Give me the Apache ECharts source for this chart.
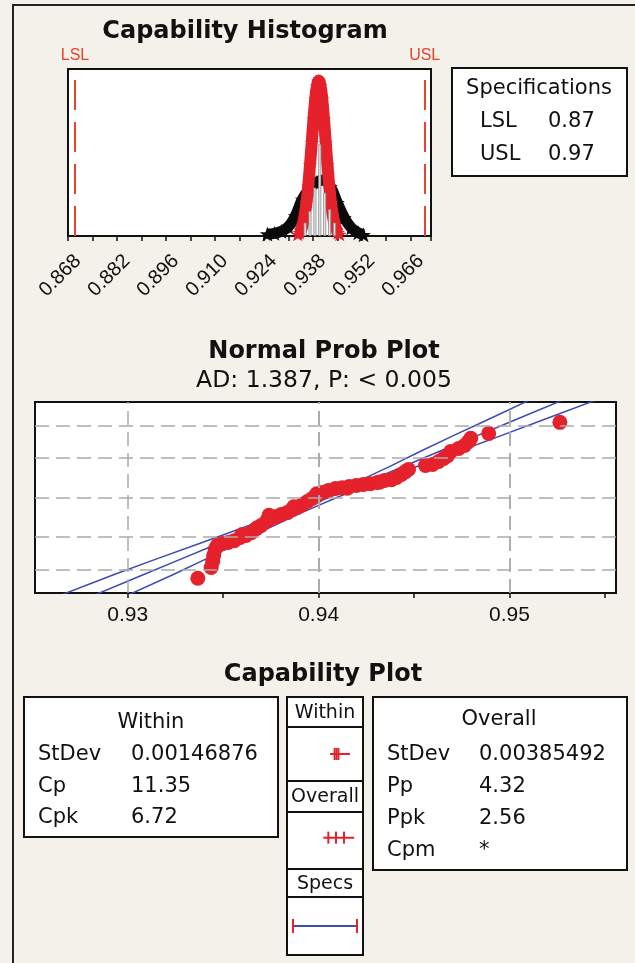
<!DOCTYPE html>
<html><head><meta charset="utf-8">
<script src="https://cdn.jsdelivr.net/npm/echarts@6/dist/echarts.min.js"></script>
<style>html,body{margin:0;padding:0;background:#f3f1ea}#c{width:635px;height:963px}</style>
</head><body><div id="c"></div>
<script>
// ---------- Capability histogram ----------
const histTickLabels = [0.868, 0.882, 0.896, 0.910, 0.924, 0.938, 0.952, 0.966];
const specNames = ['LSL', 'USL'];
const specValues = [0.87, 0.97];
const histBinCenters = [0.9358, 0.9372, 0.9386, 0.9400, 0.9414, 0.9428, 0.9442];
const histBinCounts = [8, 15, 29, 55, 26, 16, 8];
const withinCurveX = [0.9337, 0.9342, 0.9347, 0.9352, 0.9357, 0.9362, 0.9367, 0.9372, 0.9377, 0.9382, 0.9387, 0.9392, 0.9397, 0.9402, 0.9407, 0.9412, 0.9417, 0.9422, 0.9427, 0.9432, 0.9437, 0.9442, 0.9447, 0.9452, 0.9457];
const withinCurveY = [1, 2.1, 4.1, 7.4, 12.6, 20, 30, 42.6, 56, 70, 82, 90, 93, 90, 82, 70, 56, 42.6, 30, 20, 12.6, 7.4, 4.1, 2.1, 1];
const overallCurveX = [0.925, 0.927, 0.929, 0.931, 0.933, 0.935, 0.937, 0.939, 0.941, 0.943, 0.945, 0.947, 0.949, 0.951, 0.9525];
const overallCurveY = [1.2, 1.6, 2.8, 5.5, 12, 22, 28, 32, 33.5, 29.5, 20, 11, 5, 2, 0.8];
const specTableRows = [['LSL', '0.87'], ['USL', '0.97']];

// ---------- Normal probability plot ----------
const probPointsX = [0.93367, 0.93437, 0.93445, 0.93450, 0.93458, 0.93469, 0.93495, 0.93526, 0.93558, 0.93589, 0.93620, 0.93647, 0.93673, 0.93699, 0.93726, 0.93752, 0.93778, 0.93804, 0.93836, 0.93862, 0.93888, 0.93915, 0.93941, 0.93967, 0.93993, 0.94019, 0.94051, 0.94088, 0.94124, 0.94161, 0.94198, 0.94234, 0.94271, 0.94308, 0.94345, 0.94382, 0.94408, 0.94434, 0.94455, 0.94471, 0.94560, 0.94597, 0.94629, 0.94655, 0.94676, 0.94692, 0.94734, 0.94765, 0.94786, 0.94797, 0.94891, 0.95264, 0.93740, 0.93870, 0.93990, 0.94150, 0.94320, 0.93600, 0.93680];
const probPointsZ = [-2.62, -2.27, -2.08, -1.88, -1.69, -1.56, -1.49, -1.46, -1.40, -1.30, -1.23, -1.14, -1.01, -0.91, -0.78, -0.68, -0.62, -0.55, -0.49, -0.39, -0.32, -0.23, -0.13, -0.03, 0.06, 0.16, 0.23, 0.29, 0.32, 0.36, 0.39, 0.42, 0.45, 0.49, 0.55, 0.58, 0.65, 0.75, 0.84, 0.91, 1.04, 1.07, 1.17, 1.27, 1.36, 1.49, 1.59, 1.69, 1.82, 1.92, 2.08, 2.44, -0.58, -0.30, 0.12, 0.30, 0.50, -1.20, -0.98];
const bandZ = [-3.3, -2.5, -2, -1.5, -1, -0.5, 0, 0.5, 1, 1.5, 2, 2.5, 3.3];
const fitLineX = [0.92774, 0.93084, 0.93278, 0.93472, 0.93666, 0.93859, 0.94053, 0.94247, 0.94441, 0.94634, 0.94828, 0.95022, 0.95332];
const upperBandX = [0.92594, 0.92929, 0.93148, 0.93372, 0.93596, 0.93809, 0.94011, 0.94197, 0.94371, 0.94534, 0.94703, 0.94877, 0.95152];
const lowerBandX = [0.92954, 0.93239, 0.93408, 0.93572, 0.93736, 0.93909, 0.94095, 0.94297, 0.94511, 0.94734, 0.94953, 0.95167, 0.95512];
const probTickX = [0.93, 0.935, 0.94, 0.945, 0.95, 0.955];
const probLabelX = [0.93, 0.94, 0.95];
const probGridZ = [-2.326, -1.2816, 0, 1.2816, 2.326];

// ---------- Capability plot ----------
const withinStats = [['StDev', '0.00146876'], ['Cp', '11.35'], ['Cpk', '6.72']];
const overallStats = [['StDev', '0.00385492'], ['Pp', '4.32'], ['Ppk', '2.56'], ['Cpm', '*']];
const withinMarkX = [0.9280, 0.9350, 0.9380, 0.9410, 0.9590];
const overallMarkX = [0.9174, 0.9252, 0.9372, 0.9497, 0.9656];
const legendHeaders = ['Within', 'Overall', 'Specs'];

// ---------- styles ----------
const RED = '#e5212b', BLUE = '#3b4cb4', INK = '#111';
const BOX_FONT = '21px "DejaVu Sans"';
const TITLE_FONT = 'bold 24px "DejaVu Sans"';
const STAR = 'path://M12,0 L15,9 L24,9 L17,14 L20,23 L12,18 L4,23 L7,14 L0,9 L9,9 Z';

function txt(text, x, y, font, align, color) {
  return { type: 'text', x: x, y: y, silent: true,
    style: { text: text, font: font, fill: color || INK, align: align || 'left', verticalAlign: 'middle',
      textAlign: align || 'left', textVerticalAlign: 'middle' } };
}
function box(x, y, w, h) {
  return { type: 'rect', shape: { x: x, y: y, width: w, height: h },
    style: { fill: '#fff', stroke: INK, lineWidth: 2 }, silent: true };
}

const graphics = [];
graphics.push({ type: 'rect', shape: { x: 13, y: 5, width: 700, height: 1000 }, style: { fill: 'none', stroke: '#222', lineWidth: 2 }, silent: true });
graphics.push(txt('Capability Histogram', 245, 32, TITLE_FONT, 'center'));
graphics.push(box(452, 68, 175, 108));
graphics.push(txt('Specifications', 539, 89, BOX_FONT, 'center'));
specTableRows.forEach((r, i) => {
  graphics.push(txt(r[0], 480, 122 + i * 33, BOX_FONT));
  graphics.push(txt(r[1], 548, 122 + i * 33, BOX_FONT));
});
graphics.push(txt('Normal Prob Plot', 324, 352, TITLE_FONT, 'center'));
graphics.push(txt('AD: 1.387, P: < 0.005', 324, 381, '23.5px "DejaVu Sans"', 'center'));
graphics.push(txt('Capability Plot', 323, 675, TITLE_FONT, 'center'));
graphics.push(box(24, 697, 254, 140));
graphics.push(txt('Within', 151, 723, BOX_FONT, 'center'));
withinStats.forEach((r, i) => {
  graphics.push(txt(r[0], 38, 755 + i * 31.5, BOX_FONT));
  graphics.push(txt(r[1], 131, 755 + i * 31.5, BOX_FONT));
});
graphics.push(box(373, 697, 254, 173));
graphics.push(txt('Overall', 499, 720, BOX_FONT, 'center'));
overallStats.forEach((r, i) => {
  graphics.push(txt(r[0], 387, 755 + i * 32, BOX_FONT));
  graphics.push(txt(r[1], 479, 755 + i * 32, BOX_FONT));
});
const colRows = [[697, 30], [727, 54], [781, 31], [812, 57], [869, 28], [897, 58]];
colRows.forEach(r => graphics.push(box(287, r[0], 76, r[1])));
legendHeaders.forEach((h, i) => graphics.push(txt(h, 325, colRows[i * 2][0] + colRows[i * 2][1] / 2 + 1, '19px "DejaVu Sans"', 'center')));

const near = (v, arr) => arr.some(t => Math.abs(t - v) < 1e-6);

const option = {
  animation: false,
  backgroundColor: '#f3f1ea',
  graphic: { elements: graphics },
  grid: [
    { left: 68, top: 69, width: 363, height: 167, show: true, borderColor: INK, borderWidth: 2, backgroundColor: '#fff' },
    { left: 35, top: 402, width: 581, height: 191, show: true, borderColor: INK, borderWidth: 2, backgroundColor: '#fff' },
    { left: 293, top: 727, width: 64, height: 54 },
    { left: 293, top: 812, width: 64, height: 57 },
    { left: 293, top: 897, width: 64, height: 58 }
  ],
  xAxis: [
    { gridIndex: 0, type: 'value', min: 0.868, max: 0.9718, interval: 0.007,
      axisLine: { onZero: false, lineStyle: { color: INK, width: 2 } },
      axisTick: { show: true, length: 5, lineStyle: { color: INK, width: 1.5 } },
      splitLine: { show: false },
      axisLabel: { rotate: 45, margin: 12, align: 'right', verticalAlign: 'top', lineHeight: 28,
        fontSize: 20, fontFamily: 'Liberation Sans', color: INK,
        formatter: v => near(v, histTickLabels) ? v.toFixed(3) : '' } },
    { gridIndex: 1, type: 'value', min: 0.92514, max: 0.95558,
      axisLine: { onZero: false, lineStyle: { color: INK, width: 2 } },
      axisTick: { show: true, length: 5, customValues: probTickX, lineStyle: { color: INK, width: 1.5 } },
      splitLine: { show: false },
      axisLabel: { customValues: probLabelX, margin: 12, fontSize: 21, fontFamily: 'Liberation Sans', color: INK,
        formatter: v => v.toFixed(2) } },
    { gridIndex: 2, type: 'value', min: 0.87, max: 0.97, show: false },
    { gridIndex: 3, type: 'value', min: 0.87, max: 0.97, show: false },
    { gridIndex: 4, type: 'value', min: 0.87, max: 0.97, show: false }
  ],
  yAxis: [
    { gridIndex: 0, type: 'value', min: 0, max: 100, show: false },
    { gridIndex: 1, type: 'value', min: -3.1, max: 3.1, show: false },
    { gridIndex: 2, type: 'value', min: -1, max: 1, show: false },
    { gridIndex: 3, type: 'value', min: -1, max: 1, show: false },
    { gridIndex: 4, type: 'value', min: -1, max: 1, show: false }
  ],
  series: [
    { type: 'line', xAxisIndex: 0, yAxisIndex: 0, z: 2, clip: false, smooth: true,
      data: overallCurveX.map((x, i) => [x, overallCurveY[i]]),
      lineStyle: { color: '#0a0a0a', width: 11 }, symbol: STAR, symbolSize: 15,
      itemStyle: { color: '#0a0a0a' } },
    { type: 'line', xAxisIndex: 0, yAxisIndex: 0, z: 3, clip: false, smooth: true,
      data: withinCurveX.map((x, i) => [x, withinCurveY[i]]),
      lineStyle: { color: RED, width: 12 }, symbol: STAR, symbolSize: 14,
      itemStyle: { color: RED } },
    { type: 'bar', xAxisIndex: 0, yAxisIndex: 0, z: 4, barWidth: 3,
      data: histBinCenters.map((x, i) => [x, histBinCounts[i]]),
      itemStyle: { color: '#e4e4e4', borderColor: '#8a8a8a', borderWidth: 0.8 },
      markLine: { silent: true, symbol: ['none', 'none'],
        lineStyle: { color: '#e8432f', width: 2, type: [30, 12] },
        label: { show: true, position: 'end', distance: 5, formatter: '{b}', color: '#e8432f', fontSize: 16, fontFamily: 'Liberation Sans' },
        data: specValues.map((v, i) => ({ xAxis: v, name: specNames[i] })) } },
    { type: 'line', xAxisIndex: 1, yAxisIndex: 1, z: 1, data: [], symbol: 'none',
      markLine: { silent: true, symbol: ['none', 'none'], label: { show: false },
        lineStyle: { color: '#ababab', width: 1.5, type: [14, 7] },
        data: probTickX.map(v => ({ xAxis: v })).concat(probGridZ.map(v => ({ yAxis: v }))) } },
    { type: 'line', xAxisIndex: 1, yAxisIndex: 1, z: 2, symbol: 'none',
      data: bandZ.map((z, i) => [upperBandX[i], z]), lineStyle: { color: BLUE, width: 1.5 } },
    { type: 'line', xAxisIndex: 1, yAxisIndex: 1, z: 2, symbol: 'none',
      data: bandZ.map((z, i) => [fitLineX[i], z]), lineStyle: { color: BLUE, width: 1.5 } },
    { type: 'line', xAxisIndex: 1, yAxisIndex: 1, z: 2, symbol: 'none',
      data: bandZ.map((z, i) => [lowerBandX[i], z]), lineStyle: { color: BLUE, width: 1.5 } },
    { type: 'scatter', xAxisIndex: 1, yAxisIndex: 1, z: 3, symbolSize: 15,
      data: probPointsX.map((x, i) => [x, probPointsZ[i]]), itemStyle: { color: RED, opacity: 1 } },
    { type: 'line', xAxisIndex: 2, yAxisIndex: 2, z: 3,
      data: withinMarkX.map((x, i) => ({ value: [x, 0], symbol: (i === 0 || i === withinMarkX.length - 1) ? 'none' : 'rect' })),
      symbolSize: [2, 12], lineStyle: { color: RED, width: 2 }, itemStyle: { color: RED } },
    { type: 'line', xAxisIndex: 3, yAxisIndex: 3, z: 3,
      data: overallMarkX.map((x, i) => ({ value: [x, 0.1], symbol: (i === 0 || i === overallMarkX.length - 1) ? 'none' : 'rect' })),
      symbolSize: [2, 12], lineStyle: { color: RED, width: 2 }, itemStyle: { color: RED } },
    { type: 'line', xAxisIndex: 4, yAxisIndex: 4, z: 3,
      data: specValues.map(x => [x, 0]), symbol: 'rect', symbolSize: [2, 14],
      lineStyle: { color: BLUE, width: 2 }, itemStyle: { color: RED } }
  ]
};
const chart = echarts.init(document.getElementById('c'), null, { renderer: 'canvas' });
chart.setOption(option);
</script></body></html>
